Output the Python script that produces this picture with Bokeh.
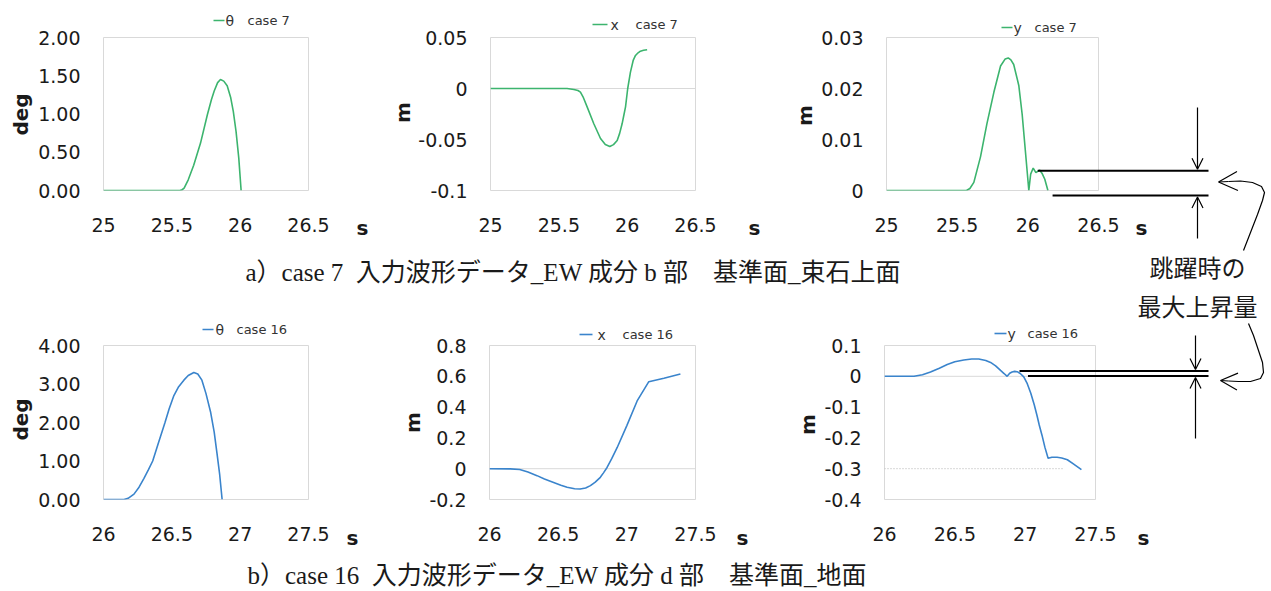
import math
from bokeh.plotting import figure
from bokeh.models import (Range1d, FixedTicker, CustomJSTickFormatter, Span, Arrow, OpenHead)
from bokeh.layouts import column, row
from bokeh.embed import file_html
from bokeh.resources import INLINE
from bokeh.core.properties import value

# ---------------- data ----------------
# case 7 : rotation theta [deg]
t_theta7 = [25.0, 25.56, 25.575, 25.59, 25.62, 25.66, 25.71, 25.76, 25.79, 25.81, 25.835, 25.856,
            25.88, 25.905, 25.93, 25.95, 25.97, 25.99, 26.007]
theta7 = [0.0, 0.0, 0.01, 0.03, 0.14, 0.33, 0.62, 0.99, 1.19, 1.30, 1.41, 1.45,
          1.43, 1.37, 1.22, 1.03, 0.77, 0.42, 0.0]

# case 7 : horizontal displacement x [m]
t_x7 = [25.0, 25.56, 25.61, 25.64, 25.658, 25.68, 25.707, 25.756, 25.805, 25.84, 25.873,
        25.90, 25.927, 25.945, 25.963, 25.976, 25.988, 26.004, 26.024, 26.044, 26.061,
        26.08, 26.097, 26.12, 26.146]
x7 = [0.0, 0.0, -0.001, -0.002, -0.0036, -0.009, -0.018, -0.0346, -0.049, -0.055, -0.0569,
      -0.055, -0.051, -0.044, -0.0346, -0.026, -0.018, 0.0, 0.016, 0.0275, 0.0324,
      0.035, 0.0366, 0.0375, 0.038]

# case 7 : vertical displacement y [m]
t_y7 = [25.0, 25.566, 25.59, 25.618, 25.665, 25.71, 25.76, 25.807, 25.84, 25.861,
        25.88, 25.90, 25.936, 25.96, 25.984, 26.007, 26.02, 26.038, 26.057, 26.083,
        26.10, 26.12, 26.142]
y7 = [0.0, 0.0, 0.0004, 0.0016, 0.0066, 0.013, 0.0193, 0.0244, 0.0258, 0.0260,
      0.0256, 0.0247, 0.0206, 0.0149, 0.0073, 0.0, 0.0032, 0.0044, 0.0035, 0.0040,
      0.0034, 0.0022, 0.0]

# case 16 : rotation theta [deg]
t_theta16 = [26.0, 26.15, 26.18, 26.223, 26.26, 26.296, 26.33, 26.36, 26.40, 26.45,
             26.48, 26.515, 26.55, 26.588, 26.62, 26.661, 26.69, 26.72, 26.75, 26.783,
             26.81, 26.83, 26.85, 26.868]
theta16 = [0.0, 0.0, 0.03, 0.14, 0.32, 0.55, 0.78, 1.0, 1.45, 2.0,
           2.35, 2.70, 2.93, 3.10, 3.22, 3.30, 3.26, 3.10, 2.75, 2.28,
           1.75, 1.21, 0.65, 0.0]

# case 16 : horizontal displacement x [m]
t_x16 = [26.0, 26.15, 26.22, 26.28, 26.346, 26.40, 26.467, 26.52, 26.565, 26.62,
         26.66, 26.70, 26.735, 26.77, 26.807, 26.83, 26.856, 26.89, 26.93, 27.0,
         27.075, 27.16, 27.27, 27.39]
x16 = [0.0, -0.001, -0.005, -0.022, -0.045, -0.067, -0.089, -0.107, -0.121, -0.130,
       -0.132, -0.125, -0.110, -0.087, -0.056, -0.027, 0.008, 0.065, 0.138, 0.28,
       0.44, 0.565, 0.587, 0.615]

# case 16 : vertical displacement y [m]
t_y16 = [26.0, 26.21, 26.27, 26.327, 26.39, 26.446, 26.50, 26.564, 26.62, 26.67,
         26.72, 26.754, 26.79, 26.825, 26.85, 26.872, 26.89, 26.907, 26.925, 26.943,
         26.965, 26.99, 27.015, 27.04, 27.065, 27.085, 27.10, 27.12, 27.14, 27.163,
         27.19, 27.227, 27.26, 27.30, 27.345, 27.40]
y16 = [0.0, 0.0, 0.005, 0.0137, 0.026, 0.038, 0.047, 0.053, 0.056, 0.056,
       0.051, 0.045, 0.034, 0.019, 0.009, 0.0, 0.010, 0.014, 0.016, 0.015,
       0.009, -0.002, -0.024, -0.055, -0.093, -0.129, -0.158, -0.192, -0.230, -0.266,
       -0.263, -0.263, -0.265, -0.271, -0.285, -0.303]
ref_t16 = [26.0, 27.27]
ref_y16 = [-0.3, -0.3]

# jump marks (max rise during the jump): [level, start time of upper line, start time of base line]
jump7 = [0.0047, 26.07, 26.175]
jump16 = [0.016, 26.96, 27.02]

# ticks / labels
xticks_a = [25, 25.5, 26, 26.5]
xlabels_a = ["25", "25.5", "26", "26.5"]
xticks_b = [26, 26.5, 27, 27.5]
xlabels_b = ["26", "26.5", "27", "27.5"]
yt1 = [0, 0.5, 1, 1.5, 2]
yl1 = ["0.00", "0.50", "1.00", "1.50", "2.00"]
yt2 = [-0.1, -0.05, 0, 0.05]
yl2 = ["-0.1", "-0.05", "0", "0.05"]
yt3 = [0, 0.01, 0.02, 0.03]
yl3 = ["0", "0.01", "0.02", "0.03"]
yt4 = [0, 1, 2, 3, 4]
yl4 = ["0.00", "1.00", "2.00", "3.00", "4.00"]
yt5 = [-0.2, 0, 0.2, 0.4, 0.6, 0.8]
yl5 = ["-0.2", "0", "0.2", "0.4", "0.6", "0.8"]
yt6 = [-0.4, -0.3, -0.2, -0.1, 0, 0.1]
yl6 = ["-0.4", "-0.3", "-0.2", "-0.1", "0", "0.1"]

series_names = ["\u03b8", "x", "y"]
case_names = ["case 7", "case 16"]
y_titles = ["deg", "m", "m"]
x_title = "s"

caption_a = "a\uff09case 7\u00a0\u00a0入力波形データ_EW 成分 b 部\u3000基準面_束石上面"
caption_b = "b\uff09case 16\u00a0\u00a0入力波形データ_EW 成分 d 部\u3000基準面_地面"
note_lines = ["跳躍時の", "最大上昇量"]

GREEN = "#3cb46e"
BLUE = "#3a84cc"
TXT = "#1a1a1a"
FRAME = "#d9d9d9"
SANS = "DejaVu Sans"
SERIF = "Liberation Serif, Noto Sans CJK JP"


def lookup_formatter(tick_values, tick_labels):
    return CustomJSTickFormatter(args=dict(tv=tick_values, tl=tick_labels), code="""
        let best = 0; let bd = Infinity;
        for (let i = 0; i < tv.length; i++) {
            const d = Math.abs(tv[i] - tick);
            if (d < bd) { bd = d; best = i; }
        }
        return tl[best];
    """)


def make_panel(origin, size, frame, xr, yr, xticks, xlabels, yticks, ylabels):
    ox, oy = origin
    w, h = size
    L, T, R, B = frame
    p = figure(width=w, height=h, x_range=Range1d(*xr), y_range=Range1d(*yr),
               output_backend="svg", toolbar_location=None, title=None,
               min_border_left=L - ox, min_border_right=ox + w - R,
               min_border_top=T - oy, min_border_bottom=oy + h - B)
    p.outline_line_color = FRAME
    p.outline_line_width = 1
    p.xgrid.visible = False
    p.ygrid.visible = False
    for ax in (p.xaxis[0], p.yaxis[0]):
        ax.axis_line_color = None
        ax.major_tick_line_color = None
        ax.minor_tick_line_color = None
        ax.major_tick_out = 0
        ax.major_tick_in = 0
        ax.major_label_text_font = SANS
        ax.major_label_text_font_size = "19px"
        ax.major_label_text_color = TXT
    p.xaxis[0].ticker = FixedTicker(ticks=xticks)
    p.xaxis[0].formatter = lookup_formatter(xticks, xlabels)
    p.xaxis[0].major_label_standoff = 27
    p.yaxis[0].ticker = FixedTicker(ticks=yticks)
    p.yaxis[0].formatter = lookup_formatter(yticks, ylabels)
    p.yaxis[0].major_label_standoff = 23

    def to_page(x, y):
        return (L + (x - xr[0]) / (xr[1] - xr[0]) * (R - L),
                B - (y - yr[0]) / (yr[1] - yr[0]) * (B - T))
    return p, to_page


# ---------------- row 1 : case 7 ----------------
F1 = (103, 32, 308, 193)
F2 = (490, 37, 695, 190)
F3 = (886, 37, 1098, 195)
p1, g1 = make_panel((0, 0), (385, 320), F1, (25, 26.5), (0, 2), xticks_a, xlabels_a, yt1, yl1)
p2, g2 = make_panel((385, 0), (395, 320), F2, (25, 26.5), (-0.1, 0.05), xticks_a, xlabels_a, yt2, yl2)
p3, g3 = make_panel((780, 0), (491, 320), F3, (25, 26.5), (0, 0.03), xticks_a, xlabels_a, yt3, yl3)
p2.add_layout(Span(location=0, dimension="width", line_color=FRAME, line_width=1, level="underlay"))
p1.line(t_theta7, theta7, line_color=GREEN, line_width=1.6)
p2.line(t_x7, x7, line_color=GREEN, line_width=1.6)
p3.line(t_y7, y7, line_color=GREEN, line_width=1.6)

# ---------------- row 2 : case 16 ----------------
F4 = (103, 341, 308, 502)
F5 = (489, 345, 695, 499)
F6 = (884, 344, 1095, 502)
p4, g4 = make_panel((0, 320), (385, 271), F4, (26, 27.5), (0, 4), xticks_b, xlabels_b, yt4, yl4)
p5, g5 = make_panel((385, 320), (395, 271), F5, (26, 27.5), (-0.2, 0.8), xticks_b, xlabels_b, yt5, yl5)
p6, g6 = make_panel((780, 320), (491, 271), F6, (26, 27.5), (-0.4, 0.1), xticks_b, xlabels_b, yt6, yl6)
p5.add_layout(Span(location=0, dimension="width", line_color=FRAME, line_width=1, level="underlay"))
p6.add_layout(Span(location=0, dimension="width", line_color=FRAME, line_width=1, level="underlay"))
p6.line(ref_t16, ref_y16, line_color="#b0b0b0", line_width=1, line_dash="1 2")
p4.line(t_theta16, theta16, line_color=BLUE, line_width=1.6)
p5.line(t_x16, x16, line_color=BLUE, line_width=1.6)
p6.line(t_y16, y16, line_color=BLUE, line_width=1.6)

# ---------------- overlay (page-pixel coordinates) ----------------
ov = figure(width=1271, height=591, x_range=Range1d(0, 1271), y_range=Range1d(591, 0),
            output_backend="svg", toolbar_location=None, title=None, min_border=0,
            x_axis_type=None, y_axis_type=None,
            background_fill_alpha=0, border_fill_alpha=0,
            styles={"position": "absolute", "left": "0px", "top": "0px", "z-index": "10"})
ov.outline_line_color = None


def otext(x, y, txt, size, font=SANS, bold=False, align="center", angle=0.0, color=TXT):
    ov.text(x=[x], y=[y], text=[txt], text_font=value(font), text_font_size=size,
            text_font_style="bold" if bold else "normal", text_align=align,
            text_baseline="middle", angle=angle, text_color=color)


# legends: (key-line x0, x1, y, symbol x, case x)
legend_pos = [
    (213, 224, 20, 225, 247), (592, 607, 24, 610, 635), (1001, 1012, 27, 1013, 1034),
    (202, 213, 329, 215, 236), (579, 592, 334, 597, 622), (994, 1006, 333, 1007, 1027),
]
for i, (lx0, lx1, ly, sx, cx) in enumerate(legend_pos):
    col = GREEN if i < 3 else BLUE
    ov.segment(x0=[lx0], y0=[ly], x1=[lx1], y1=[ly], line_color=col, line_width=1.6)
    otext(sx, ly, series_names[i % 3], "14px", align="left", color="#333333")
    otext(cx, ly, case_names[i // 3], "13px", align="left", color="#333333")

# axis titles
ytitle_pos = [(20, 114), (402, 112), (804, 115), (20, 419), (412, 422), (807, 424)]
for i, (x, y) in enumerate(ytitle_pos):
    otext(x, y, y_titles[i % 3], "20px", bold=True, angle=math.pi / 2)
xtitle_pos = [(362, 227), (754, 227), (1141, 227), (352, 537), (742, 537), (1143, 537)]
for x, y in xtitle_pos:
    otext(x, y, x_title, "20px", bold=True)

# captions and note
otext(245, 272, caption_a, "25px", font=SERIF, align="left")
otext(247, 575, caption_b, "25px", font=SERIF, align="left")
otext(1197, 268, note_lines[0], "24px", font=SERIF)
otext(1197, 307, note_lines[1], "24px", font=SERIF)


def arrow(x0, y0, x1, y1, size):
    ov.add_layout(Arrow(x_start=x0, y_start=y0, x_end=x1, y_end=y1,
                        end=OpenHead(size=size, line_color="black", line_width=1.2),
                        line_color="black", line_width=1.2))


XEND = 1208
for g, jump in ((g3, jump7), (g6, jump16)):
    ux, uy = g(jump[1], jump[0])
    bx, by = g(jump[2], 0.0)
    ov.segment(x0=[ux, bx], y0=[uy, by], x1=[XEND, XEND], y1=[uy, by],
               line_color="black", line_width=2)
    ax_ = 1197 if g is g3 else 1195
    top = 107 if g is g3 else 335
    bot = 238 if g is g3 else 438
    arrow(ax_, top, ax_, uy - 1.5, 11)
    arrow(ax_, bot, ax_, by + 1.5, 11)

curve1_x = [1243, 1250, 1257, 1262, 1264, 1261, 1252, 1240, 1228]
curve1_y = [250, 232, 214, 200, 192, 186, 182, 180.5, 181]
curve2_x = [1248, 1253, 1258, 1262, 1263, 1260, 1250, 1238, 1228]
curve2_y = [323, 335, 350, 362, 372, 378, 381, 381, 380.5]
ov.line(curve1_x, curve1_y, line_color="black", line_width=1.2)
ov.line(curve2_x, curve2_y, line_color="black", line_width=1.2)
arrow(1228, 181, 1218, 181.5, 19)
arrow(1228, 380.5, 1220, 380, 17)

layout = column(row(p1, p2, p3), row(p4, p5, p6), ov)

with open("out.html", "w") as f:
    f.write(file_html(layout, INLINE))
